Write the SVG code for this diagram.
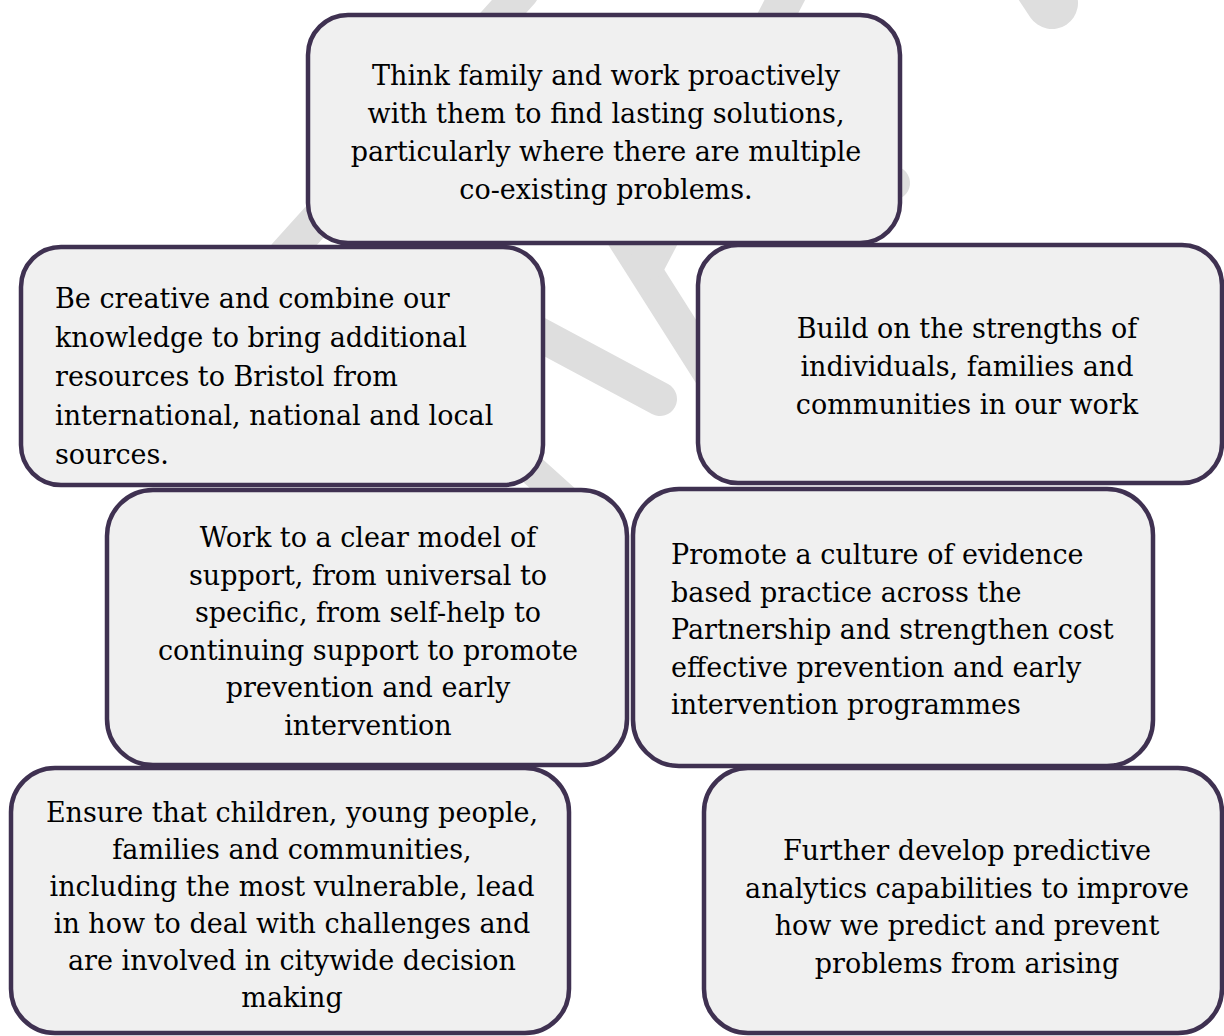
<svg xmlns="http://www.w3.org/2000/svg" width="1224" height="1036" viewBox="0 0 1224 1036">
<style>
.box{fill:#f0f0f0;stroke:#3f3151;stroke-width:4.5}
.t{font-family:"DejaVu Serif","Liberation Serif",serif;font-size:27px;fill:#000}
.c{text-anchor:middle}
.wm{fill:none;stroke:#dedede;stroke-linecap:round}
</style>
<rect width="1224" height="1036" fill="#fff"/>
<g id="watermark">
<path class="wm" d="M285,255 L522,-8" stroke-width="34"/>
<path class="wm" d="M600,200 L730,405" stroke-width="34"/>
<path class="wm" d="M648,262 L790,-10" stroke-width="36"/>
<path class="wm" d="M520,324 L660,399" stroke-width="34"/>
<path class="wm" d="M480,423 L600,531" stroke-width="30"/>
<path class="wm" d="M850,170 L893,183" stroke-width="34"/>
<path class="wm" d="M1030,-30 L1052,3" stroke-width="52"/>
</g>
<g id="connectors"/>
<g id="n1">
<rect class="box" x="308" y="15" width="592" height="228" rx="40"/>
<text class="t c" x="606"><tspan x="606" y="85">Think family and work proactively</tspan><tspan x="606" y="123">with them to find lasting solutions,</tspan><tspan x="606" y="161">particularly where there are multiple</tspan><tspan x="606" y="199">co-existing problems.</tspan></text>
</g>
<g id="n2">
<rect class="box" x="21" y="247" width="522" height="238" rx="40"/>
<text class="t" x="55"><tspan x="55" y="308">Be creative and combine our</tspan><tspan x="55" y="347">knowledge to bring additional</tspan><tspan x="55" y="386">resources to Bristol from</tspan><tspan x="55" y="425">international, national and local</tspan><tspan x="55" y="464">sources.</tspan></text>
</g>
<g id="n3">
<rect class="box" x="698" y="245" width="524" height="238" rx="40"/>
<text class="t c" x="967"><tspan x="967" y="338">Build on the strengths of</tspan><tspan x="967" y="376">individuals, families and</tspan><tspan x="967" y="414">communities in our work</tspan></text>
</g>
<g id="n4">
<rect class="box" x="107" y="490" width="520" height="275" rx="46"/>
<text class="t c" x="368"><tspan x="368" y="547">Work to a clear model of</tspan><tspan x="368" y="584.5">support, from universal to</tspan><tspan x="368" y="622">specific, from self-help to</tspan><tspan x="368" y="659.5">continuing support to promote</tspan><tspan x="368" y="697">prevention and early</tspan><tspan x="368" y="734.5">intervention</tspan></text>
</g>
<g id="n5">
<rect class="box" x="633" y="489" width="520" height="277" rx="46"/>
<text class="t" x="671"><tspan x="671" y="564">Promote a culture of evidence</tspan><tspan x="671" y="601.5">based practice across the</tspan><tspan x="671" y="639">Partnership and strengthen cost</tspan><tspan x="671" y="676.5">effective prevention and early</tspan><tspan x="671" y="714">intervention programmes</tspan></text>
</g>
<g id="n6">
<rect class="box" x="11" y="768" width="558" height="265" rx="44"/>
<text class="t c" x="292"><tspan x="292" y="822">Ensure that children, young people,</tspan><tspan x="292" y="859">families and communities,</tspan><tspan x="292" y="896">including the most vulnerable, lead</tspan><tspan x="292" y="933">in how to deal with challenges and</tspan><tspan x="292" y="970">are involved in citywide decision</tspan><tspan x="292" y="1007">making</tspan></text>
</g>
<g id="n7">
<rect class="box" x="704" y="768" width="518" height="265" rx="44"/>
<text class="t c" x="967"><tspan x="967" y="860">Further develop predictive</tspan><tspan x="967" y="897.5">analytics capabilities to improve</tspan><tspan x="967" y="935">how we predict and prevent</tspan><tspan x="967" y="972.5">problems from arising</tspan></text>
</g>
</svg>
